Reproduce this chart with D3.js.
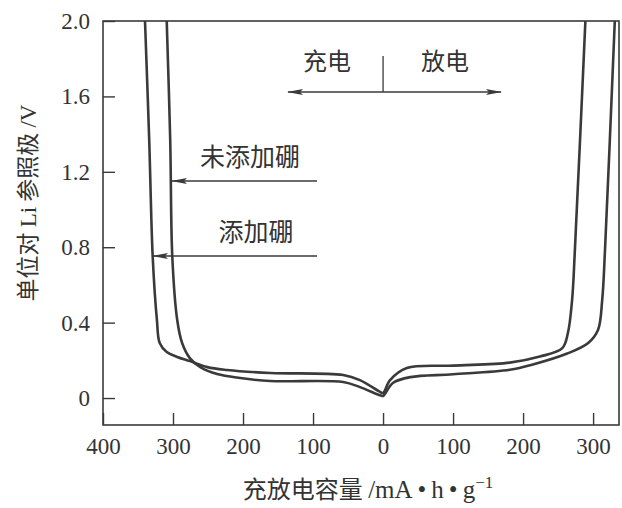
<!DOCTYPE html>
<html>
<head>
<meta charset="utf-8">
<script src="https://cdn.jsdelivr.net/npm/d3@7"></script>
<style>
  body { margin: 0; background: #fff; }
  svg { display: block; }
</style>
</head>
<body>
<svg id="chart" width="622" height="508"></svg>
<script>
// ---- data (capacity in mA·h/g; charge side negative, voltage in V) ----
const xTicks = [-400, -300, -200, -100, 0, 100, 200, 300];
const yTicks = [0, 0.4, 0.8, 1.2, 1.6, 2.0];

// 添加硼 (with boron): charge branch then discharge branch
const boronCap = [-340, -334, -329, -323, -319, -309, -294, -276, -251, -223, -161, -57, -33, -4, 0, 10, 34, 100, 181, 224, 256, 264, 270, 274, 289];
const boronV   = [2.0, 1.369, 0.748, 0.414, 0.292, 0.244, 0.218, 0.196, 0.164, 0.149, 0.133, 0.122, 0.095, 0.032, 0.027, 0.095, 0.159, 0.172, 0.188, 0.220, 0.265, 0.345, 0.520, 0.785, 2.0];

// 未添加硼 (without boron)
const noBoronCap = [-309, -304, -301, -294, -287, -276, -261, -237, -204, -161, -57, -33, -3, 0, 14, 39, 100, 181, 214, 263, 293, 307, 313, 317, 331];
const noBoronV   = [2.0, 1.369, 0.748, 0.414, 0.292, 0.212, 0.164, 0.127, 0.106, 0.090, 0.085, 0.058, 0.013, 0.011, 0.080, 0.111, 0.126, 0.150, 0.178, 0.236, 0.292, 0.361, 0.520, 0.785, 2.0];

const series = [
  { name: "添加硼", cap: boronCap, v: boronV },
  { name: "未添加硼", cap: noBoronCap, v: noBoronV }
];

// ---- layout ----
const svg = d3.select("#chart");
const L = 103, R = 619, T = 21, B = 425;
const x = d3.scaleLinear().domain([-400, 337]).range([L, R]);
const y = d3.scaleLinear().domain([-0.143, 2.0]).range([B, T]);
const ink = "#3a3a3a";
const numFont = "'Liberation Serif', 'DejaVu Serif', serif";
const cjkFont = "'Noto Sans CJK SC', 'Noto Sans', sans-serif";

const defs = svg.append("defs");
defs.append("clipPath").attr("id", "clip")
  .append("rect").attr("x", L).attr("y", T).attr("width", R - L).attr("height", B - T);
defs.append("marker").attr("id", "arr")
  .attr("viewBox", "0 0 16 8").attr("refX", 15).attr("refY", 4)
  .attr("markerWidth", 16).attr("markerHeight", 8)
  .attr("markerUnits", "userSpaceOnUse").attr("orient", "auto-start-reverse")
  .append("path").attr("d", "M0,1 L16,4 L0,7 L3,4 Z").attr("fill", ink);

// axes
const xAxis = d3.axisBottom(x).tickValues(xTicks).tickSize(-12).tickPadding(13)
  .tickFormat(d => Math.abs(d));
const yAxis = d3.axisLeft(y).tickValues(yTicks).tickSize(-12).tickPadding(13)
  .tickFormat(d => d === 0 ? "0" : d3.format(".1f")(d));

const gx = svg.append("g").attr("transform", `translate(0,${B})`).call(xAxis);
const gy = svg.append("g").attr("transform", `translate(${L},0)`).call(yAxis);
[gx, gy].forEach(g => {
  g.select(".domain").remove();
  g.selectAll(".tick line").attr("stroke", ink).attr("stroke-width", 1.4);
  g.selectAll(".tick text").attr("fill", "#333").style("font-family", numFont).style("font-size", "23px");
});

// frame
svg.append("rect").attr("x", L).attr("y", T).attr("width", R - L).attr("height", B - T)
  .attr("fill", "none").attr("stroke", ink).attr("stroke-width", 1.6);

// curves
const line = d3.line()
  .x(d => x(d[0])).y(d => y(d[1]))
  .curve(d3.curveCatmullRom.alpha(0.5));
svg.append("g").attr("clip-path", "url(#clip)")
  .selectAll("path").data(series).join("path")
  .attr("d", s => line(s.cap.map((c, i) => [c, s.v[i]])))
  .attr("fill", "none").attr("stroke", ink).attr("stroke-width", 2.6)
  .attr("stroke-linejoin", "round");

// annotations: 充电 / 放电
const ann = svg.append("g").attr("fill", "#333").style("font-family", cjkFont);
ann.append("text").attr("x", 327).attr("y", 70).attr("text-anchor", "middle")
  .style("font-size", "24px").text("充电");
ann.append("text").attr("x", 445).attr("y", 70).attr("text-anchor", "middle")
  .style("font-size", "24px").text("放电");
svg.append("line").attr("x1", x(0)).attr("x2", x(0)).attr("y1", 56).attr("y2", 92)
  .attr("stroke", ink).attr("stroke-width", 1.3);
svg.append("line").attr("x1", x(0)).attr("x2", 288).attr("y1", 92).attr("y2", 92)
  .attr("stroke", ink).attr("stroke-width", 1.3).attr("marker-end", "url(#arr)");
svg.append("line").attr("x1", x(0)).attr("x2", 501).attr("y1", 92).attr("y2", 92)
  .attr("stroke", ink).attr("stroke-width", 1.3).attr("marker-end", "url(#arr)");

// series labels with arrows
ann.append("text").attr("x", 250).attr("y", 166).attr("text-anchor", "middle")
  .style("font-size", "25px").text("未添加硼");
svg.append("line").attr("x1", 317).attr("x2", 172).attr("y1", 181).attr("y2", 181)
  .attr("stroke", ink).attr("stroke-width", 1.3).attr("marker-end", "url(#arr)");
ann.append("text").attr("x", 256).attr("y", 241).attr("text-anchor", "middle")
  .style("font-size", "25px").text("添加硼");
svg.append("line").attr("x1", 317).attr("x2", 153).attr("y1", 256).attr("y2", 256)
  .attr("stroke", ink).attr("stroke-width", 1.3).attr("marker-end", "url(#arr)");

// axis titles
const yt = svg.append("text").attr("transform", "translate(36,203) rotate(-90)")
  .attr("text-anchor", "middle").attr("fill", "#333").style("font-size", "23px");
yt.append("tspan").style("font-family", cjkFont).text("单位对 ");
yt.append("tspan").style("font-family", numFont).text("Li");
yt.append("tspan").style("font-family", cjkFont).text(" 参照极 ");
yt.append("tspan").style("font-family", numFont).text("/V");

const xt = svg.append("text").attr("x", 368).attr("y", 498)
  .attr("text-anchor", "middle").attr("fill", "#333");
xt.append("tspan").style("font-family", cjkFont).style("font-size", "24px").text("充放电容量 ");
xt.append("tspan").style("font-family", numFont).style("font-size", "25px").text("/mA\u2009•\u2009h\u2009•\u2009g");
xt.append("tspan").style("font-family", numFont).style("font-size", "17px").attr("dy", -10).text("−1");
</script>
</body>
</html>
